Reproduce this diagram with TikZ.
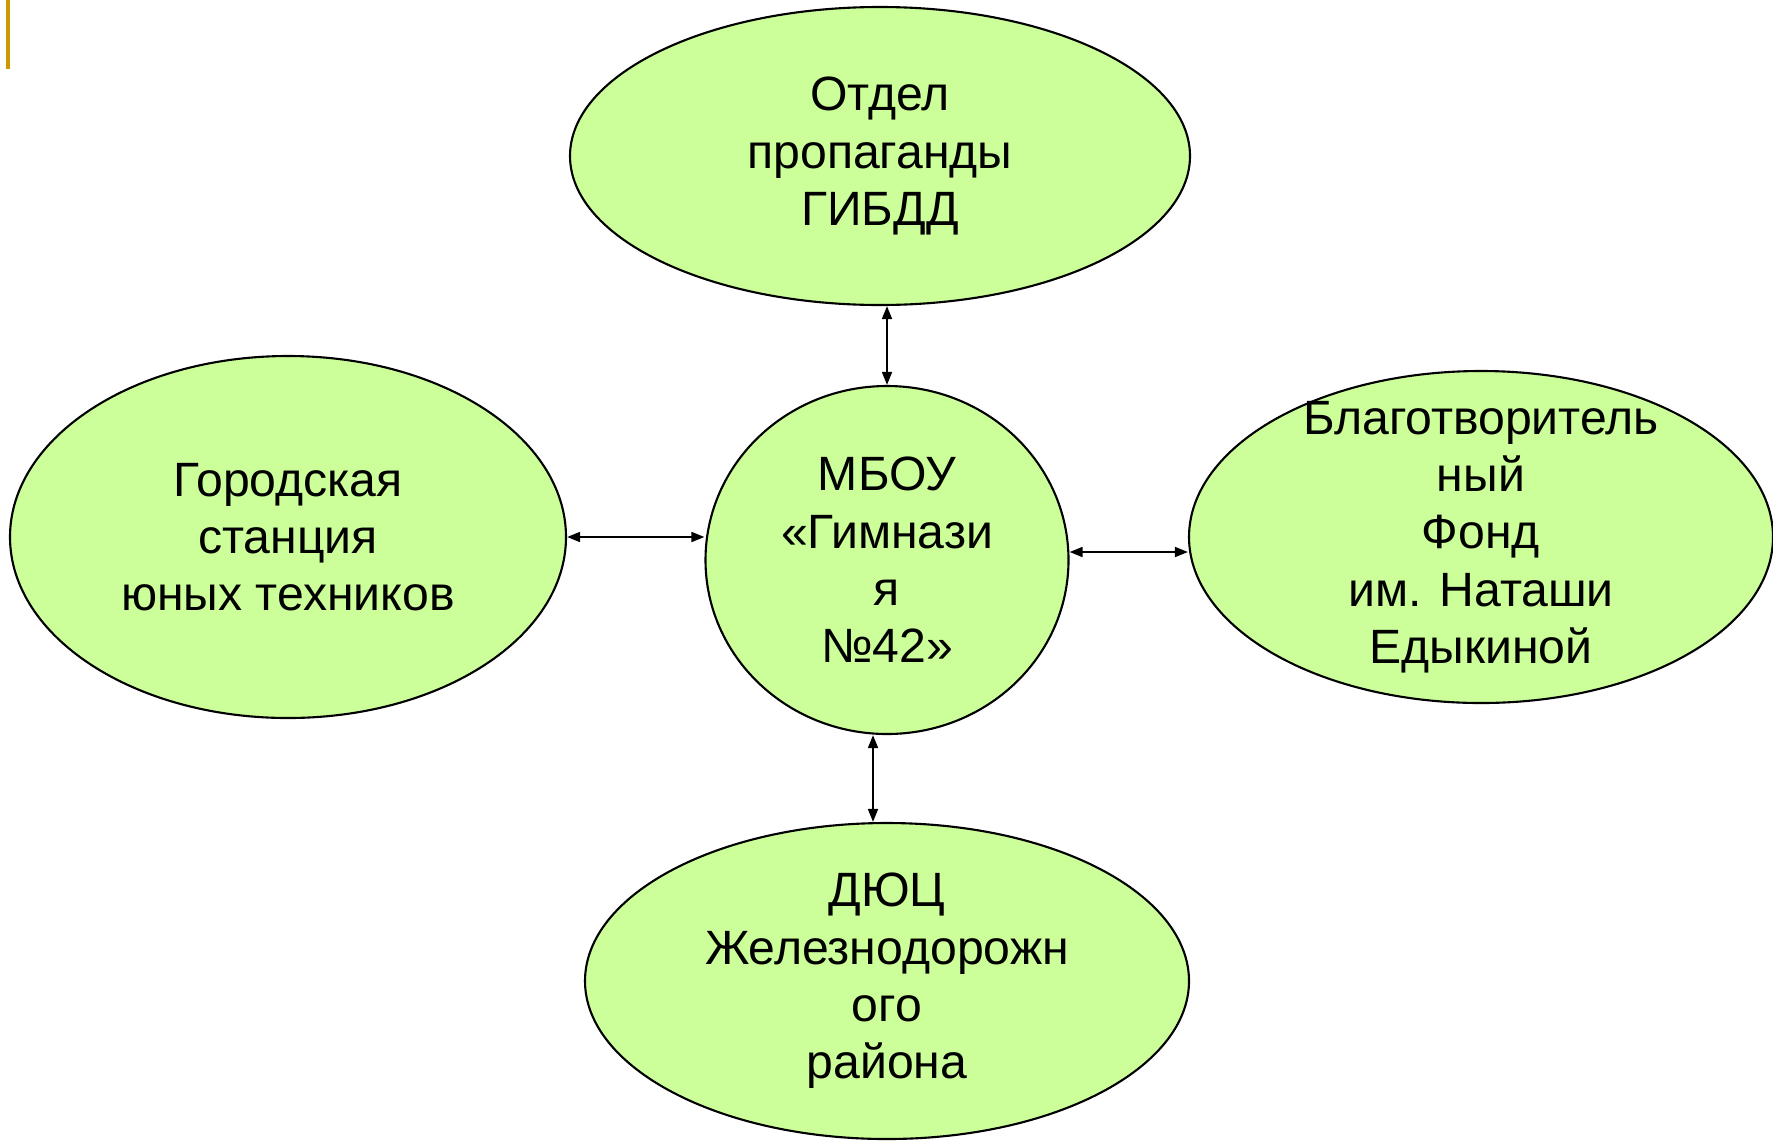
\documentclass[tikz,border=0pt]{standalone}
\usepackage{fontspec}
\setmainfont{Liberation Sans}
\usepackage{tikz}
\usepackage{xcolor}
\usetikzlibrary{shapes.geometric,arrows.meta}

\definecolor{orgfill}{HTML}{CCFF99}
\definecolor{barcolor}{HTML}{CC9900}

\tikzset{
  org/.style={ellipse, draw, line width=0.6pt, fill=orgfill, inner sep=-3cm,
    align=center, font=\fontsize{13.7}{16.3}\selectfont},
  link/.style={line width=0.6pt,
    {Triangle[length=3.7pt,width=2.8pt]}-{Triangle[length=3.7pt,width=2.8pt]}}
}

\begin{document}
\begin{tikzpicture}
    \useasboundingbox (0,0) rectangle (17.73,-11.40);
    \fill [barcolor] (0.06,0) rectangle (0.10,-0.69);

    \node [org, minimum width=6.20cm, minimum height=2.98cm] (gibdd) at (8.80,-1.56) {Отдел\\пропаганды\\ГИБДД};
    \node [org, minimum width=5.56cm, minimum height=3.62cm] (station) at (2.88,-5.37) {Городская\\станция\\юных техников};
    \node [org, minimum width=3.63cm, minimum height=3.48cm] (school) at (8.87,-5.60) {МБОУ\\«Гимнази\\я\\№42»};
    \node [org, minimum width=5.84cm, minimum height=3.32cm] (fund) at (14.81,-5.37) {Благотворитель\\ный\\Фонд\\им. Наташи\\Едыкиной};
    \node [org, minimum width=6.04cm, minimum height=3.16cm] (dyuc) at (8.87,-9.81) {ДЮЦ\\Железнодорожн\\ого\\района};

    \draw [link] (school.north) -- (school.north |- gibdd.south);
    \draw [link] (station.east) -- (station.east -| school.west);
    \draw [link] ([yshift=0.08cm]school.east) -- ([yshift=0.08cm]school.east -| fund.west);
    \draw [link] ([xshift=-0.14cm]school.south) -- ([xshift=-0.14cm]school.south |- dyuc.north);
\end{tikzpicture}
\end{document}
